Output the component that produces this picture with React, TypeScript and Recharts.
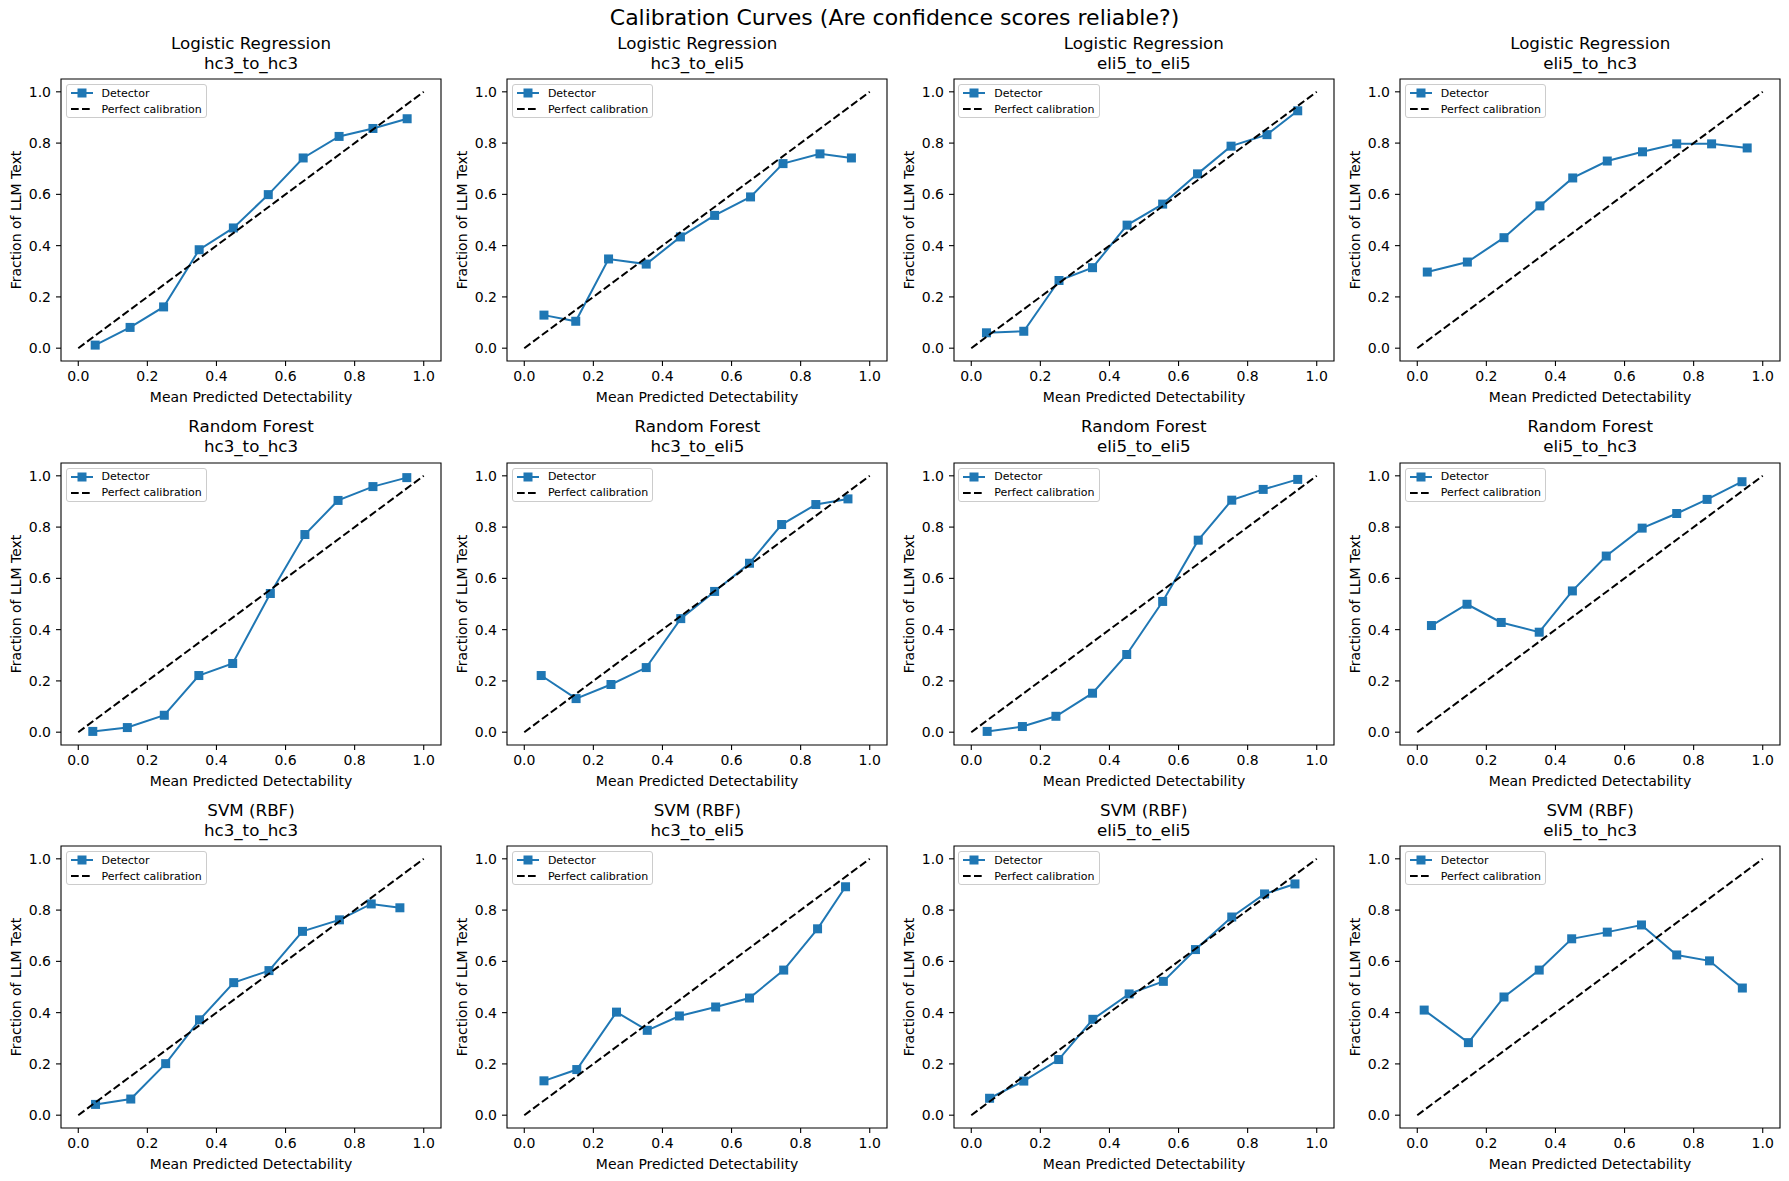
import React from "react";
import { ScatterChart, Scatter, XAxis, YAxis, ReferenceArea, Label } from "recharts";

const MODELS = ["Logistic Regression", "Random Forest", "SVM (RBF)"];
const SPLITS = ["hc3_to_hc3", "hc3_to_eli5", "eli5_to_eli5", "eli5_to_hc3"];
const TICKS = [0, 0.2, 0.4, 0.6, 0.8, 1.0];
const PERFECT = [0, 1];

// mean predicted detectability per bin (one row per split)
const LR_PRED = [
  [0.049, 0.15, 0.247, 0.35, 0.449, 0.55, 0.651, 0.755, 0.853, 0.952],
  [0.057, 0.149, 0.244, 0.353, 0.452, 0.551, 0.655, 0.749, 0.856, 0.947],
  [0.044, 0.152, 0.254, 0.351, 0.451, 0.554, 0.655, 0.752, 0.856, 0.945],
  [0.029, 0.145, 0.251, 0.355, 0.45, 0.55, 0.652, 0.751, 0.852, 0.955],
];
const LR_FRAC = [
  [0.012, 0.081, 0.161, 0.384, 0.469, 0.599, 0.742, 0.826, 0.857, 0.895],
  [0.129, 0.105, 0.348, 0.328, 0.434, 0.518, 0.59, 0.72, 0.758, 0.742],
  [0.06, 0.066, 0.264, 0.314, 0.48, 0.562, 0.68, 0.788, 0.833, 0.926],
  [0.297, 0.336, 0.431, 0.555, 0.664, 0.73, 0.766, 0.797, 0.797, 0.781],
];
const RF_PRED = [
  [0.042, 0.142, 0.249, 0.349, 0.447, 0.556, 0.656, 0.752, 0.853, 0.951],
  [0.049, 0.15, 0.251, 0.353, 0.453, 0.551, 0.652, 0.745, 0.844, 0.937],
  [0.046, 0.148, 0.245, 0.351, 0.45, 0.554, 0.657, 0.754, 0.845, 0.945],
  [0.041, 0.144, 0.243, 0.353, 0.449, 0.547, 0.651, 0.751, 0.839, 0.94],
];
const RF_FRAC = [
  [0.003, 0.018, 0.066, 0.221, 0.268, 0.541, 0.771, 0.904, 0.958, 0.993],
  [0.221, 0.131, 0.186, 0.252, 0.443, 0.549, 0.659, 0.81, 0.888, 0.91],
  [0.003, 0.022, 0.062, 0.152, 0.303, 0.51, 0.749, 0.905, 0.947, 0.986],
  [0.416, 0.499, 0.428, 0.39, 0.551, 0.687, 0.796, 0.853, 0.908, 0.977],
];
const SVM_PRED = [
  [0.05, 0.152, 0.253, 0.351, 0.45, 0.552, 0.649, 0.756, 0.848, 0.931],
  [0.057, 0.152, 0.267, 0.356, 0.449, 0.554, 0.652, 0.751, 0.849, 0.93],
  [0.053, 0.152, 0.253, 0.352, 0.457, 0.556, 0.649, 0.754, 0.849, 0.937],
  [0.02, 0.148, 0.251, 0.353, 0.447, 0.55, 0.649, 0.751, 0.846, 0.941],
];
const SVM_FRAC = [
  [0.042, 0.063, 0.201, 0.372, 0.517, 0.564, 0.717, 0.762, 0.824, 0.809],
  [0.134, 0.178, 0.402, 0.331, 0.387, 0.422, 0.457, 0.566, 0.727, 0.891],
  [0.066, 0.133, 0.217, 0.374, 0.473, 0.522, 0.646, 0.773, 0.863, 0.902],
  [0.41, 0.283, 0.461, 0.566, 0.688, 0.714, 0.742, 0.625, 0.602, 0.496],
];

const PRED = [LR_PRED, RF_PRED, SVM_PRED];
const FRAC = [LR_FRAC, RF_FRAC, SVM_FRAC];

const BLUE = "#1f77b4";
const FONT = "'DejaVu Sans', sans-serif";
const DASH = "7.7 3.3";

// axes geometry (px)
const AX_LEFT0 = 61;
const AX_DX = 446.4;
const AX_TOP0 = 79.3;
const AX_DY = 383.5;
const AX_W = 380;
const AX_H = 282;
const YAXIS_W = 60;
const XAXIS_H = 50;
const M_TOP = 10;
const M_RIGHT = 10;

const SquareMarker = (props: any) => {
  const { cx, cy } = props;
  if (cx == null || cy == null) return <g />;
  return <rect x={cx - 4.5} y={cy - 4.5} width={9} height={9} fill={BLUE} />;
};

const NoMarker = () => <g />;

function LegendBox() {
  const row = { display: "flex", alignItems: "center", height: 16 } as const;
  return (
    <div
      style={{
        position: "absolute",
        left: 4.7,
        top: 5,
        background: "rgba(255,255,255,0.8)",
        border: "1px solid #cccccc",
        borderRadius: 3,
        padding: "0 4px",
        fontFamily: FONT,
        fontSize: 11,
        color: "#000",
        whiteSpace: "nowrap",
      }}
    >
      <div style={row}>
        <svg width={22} height={16}>
          <line x1={0} y1={8} x2={22} y2={8} stroke={BLUE} strokeWidth={2} />
          <rect x={6.5} y={3.5} width={9} height={9} fill={BLUE} />
        </svg>
        <span style={{ marginLeft: 8.8 }}>Detector</span>
      </div>
      <div style={row}>
        <svg width={22} height={16}>
          <line x1={0} y1={8} x2={22} y2={8} stroke="#000" strokeWidth={2} strokeDasharray={DASH} />
        </svg>
        <span style={{ marginLeft: 8.8 }}>Perfect calibration</span>
      </div>
    </div>
  );
}

function Panel({ r, c }: { r: number; c: number }) {
  const axLeft = AX_LEFT0 + AX_DX * c;
  const axTop = AX_TOP0 + AX_DY * r;
  const pts = PRED[r][c].map((x, i) => ({ x, y: FRAC[r][c][i] }));
  const diag = PERFECT.map((v) => ({ x: v, y: v }));
  const tick = { fill: "#000", fontSize: 14, fontFamily: FONT };

  return (
    <>
      <div
        style={{
          position: "absolute",
          left: axLeft,
          top: axTop - 46.8,
          width: AX_W,
          textAlign: "center",
          fontFamily: FONT,
          fontSize: 16.7,
          lineHeight: "20.3px",
          color: "#000",
        }}
      >
        <div>{MODELS[r]}</div>
        <div>{SPLITS[c]}</div>
      </div>
      <div style={{ position: "absolute", left: axLeft - YAXIS_W, top: axTop - M_TOP }}>
        <ScatterChart
          width={YAXIS_W + AX_W + M_RIGHT}
          height={M_TOP + AX_H + XAXIS_H}
          margin={{ top: M_TOP, right: M_RIGHT, bottom: 0, left: 0 }}
        >
          <XAxis
            type="number"
            dataKey="x"
            domain={[-0.05, 1.05]}
            ticks={TICKS}
            interval={0}
            allowDataOverflow
            tickFormatter={(v: number) => v.toFixed(1)}
            height={XAXIS_H}
            axisLine={false}
            tickLine={{ stroke: "#000", strokeWidth: 1.1 }}
            tickSize={5}
            tickMargin={5}
            tick={tick}
          >
            <Label
              content={(p: any) => {
                const vb = p.viewBox;
                if (!vb) return null;
                return (
                  <text
                    x={vb.x + vb.width / 2}
                    y={vb.y + 36}
                    textAnchor="middle"
                    dominantBaseline="central"
                    fontSize={14}
                    fontFamily={FONT}
                    fill="#000"
                  >
                    Mean Predicted Detectability
                  </text>
                );
              }}
            />
          </XAxis>
          <YAxis
            type="number"
            dataKey="y"
            domain={[-0.05, 1.05]}
            ticks={TICKS}
            interval={0}
            allowDataOverflow
            tickFormatter={(v: number) => v.toFixed(1)}
            width={YAXIS_W}
            axisLine={false}
            tickLine={{ stroke: "#000", strokeWidth: 1.1 }}
            tickSize={5}
            tickMargin={5}
            tick={tick}
          >
            <Label
              content={(p: any) => {
                const vb = p.viewBox;
                if (!vb) return null;
                const x = vb.x + vb.width - 45;
                const y = vb.y + vb.height / 2;
                return (
                  <text
                    x={x}
                    y={y}
                    transform={`rotate(-90, ${x}, ${y})`}
                    textAnchor="middle"
                    dominantBaseline="central"
                    fontSize={14}
                    fontFamily={FONT}
                    fill="#000"
                  >
                    Fraction of LLM Text
                  </text>
                );
              }}
            />
          </YAxis>
          <ReferenceArea
            x1={-0.05}
            x2={1.05}
            y1={-0.05}
            y2={1.05}
            fill="none"
            fillOpacity={0}
            stroke="#000"
            strokeWidth={1.1}
            ifOverflow="visible"
          />
          <Scatter
            name="Detector"
            data={pts}
            fill={BLUE}
            line={{ stroke: BLUE, strokeWidth: 2 }}
            lineType="joint"
            shape={SquareMarker}
            isAnimationActive={false}
          />
          <Scatter
            name="Perfect calibration"
            data={diag}
            fill="#000"
            line={{ stroke: "#000", strokeWidth: 2, strokeDasharray: DASH }}
            lineType="joint"
            shape={NoMarker}
            isAnimationActive={false}
          />
        </ScatterChart>
        <div style={{ position: "absolute", left: YAXIS_W, top: M_TOP, width: 0, height: 0 }}>
          <LegendBox />
        </div>
      </div>
    </>
  );
}

export default function App() {
  return (
    <div
      style={{
        position: "relative",
        width: 1789,
        height: 1181,
        background: "#fff",
        overflow: "hidden",
      }}
    >
      <style>{`body{margin:0;}`}</style>
      <div
        style={{
          position: "absolute",
          left: 0,
          top: 5.2,
          width: 1789,
          textAlign: "center",
          fontFamily: FONT,
          fontSize: 22,
          lineHeight: "26px",
          color: "#000",
        }}
      >
        Calibration Curves (Are confidence scores reliable?)
      </div>
      {MODELS.map((_, r) =>
        SPLITS.map((__, c) => <Panel key={`${r}-${c}`} r={r} c={c} />)
      )}
    </div>
  );
}
